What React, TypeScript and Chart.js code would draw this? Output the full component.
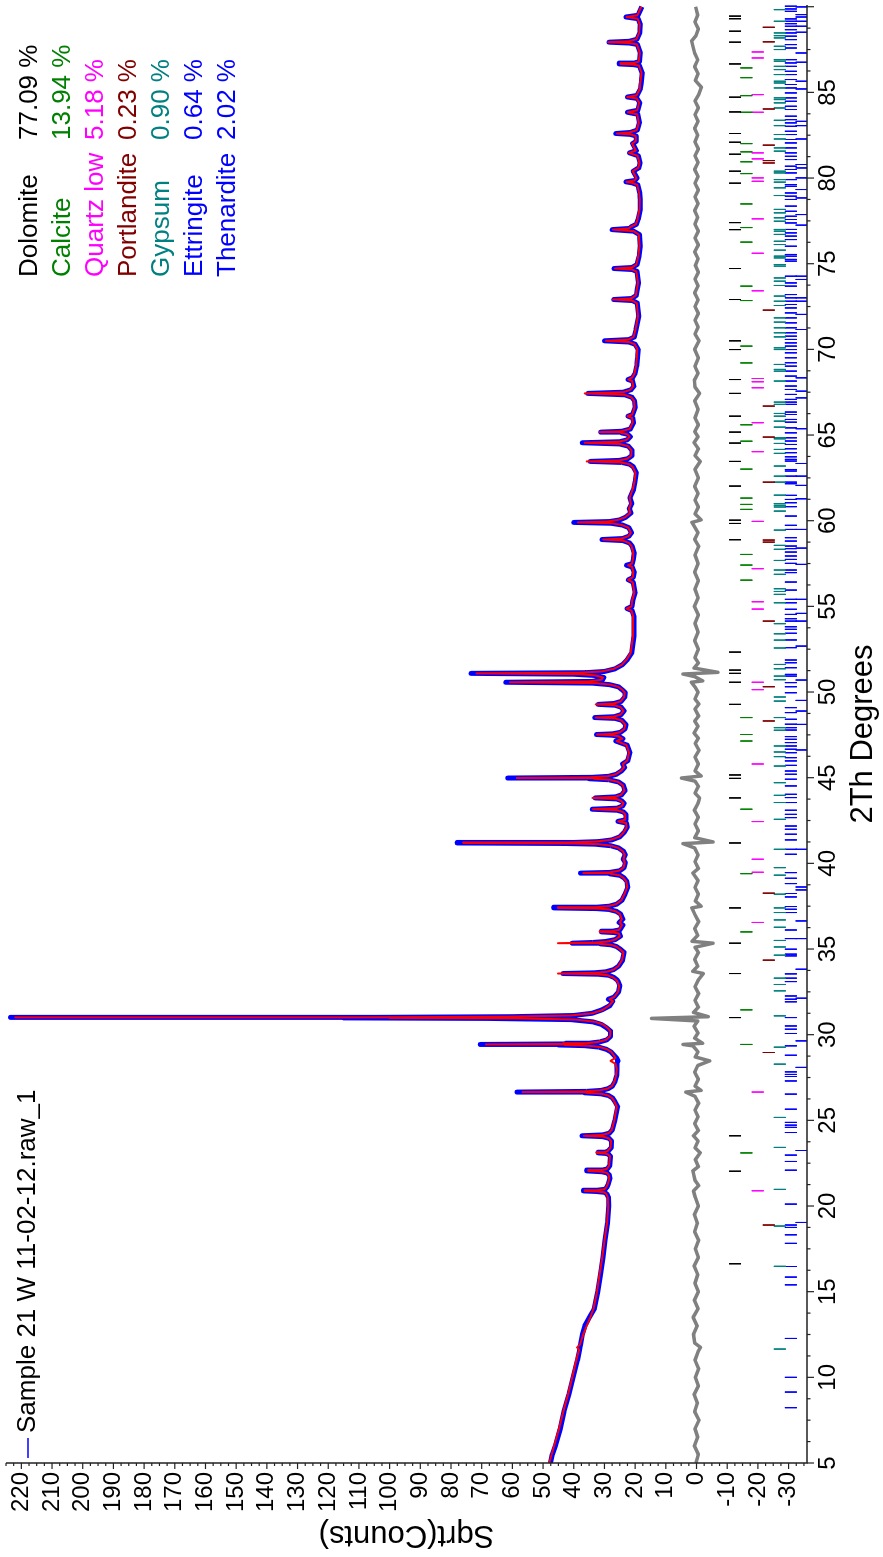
import React, { useEffect, useRef } from 'react';
import { Chart, registerables } from 'chart.js';

Chart.register(...registerables);

// ---------- data ----------
const twoTheta = [
  5.0, 5.5, 6.0, 7.0, 8.0, 9.0, 10.0, 11.0, 11.6, 11.75,
  11.9, 12.5, 13.0, 13.5, 14.0, 15.0, 16.0, 17.0, 18.0, 19.0,
  20.0, 20.5, 20.7, 20.8, 20.85, 20.88, 20.92, 20.98, 21.1, 21.3,
  21.6, 21.8, 21.93, 22.0, 22.05, 22.1, 22.17, 22.35, 22.9, 23.02,
  23.07, 23.1, 23.14, 23.22, 23.4, 23.8, 23.95, 24.05, 24.1, 24.15,
  24.25, 24.45, 25.0, 25.8, 26.1, 26.3, 26.45, 26.55, 26.61, 26.65,
  26.69, 26.75, 26.85, 27.0, 27.25, 27.6, 28.0, 28.3, 28.47, 28.65,
  29.0, 29.15, 29.28, 29.36, 29.4, 29.43, 29.46, 29.5, 29.58, 29.7,
  29.9, 30.2, 30.4, 30.6, 30.75, 30.88, 30.95, 30.98, 31.0, 31.02,
  31.05, 31.12, 31.25, 31.45, 31.7, 31.95, 32.07, 32.2, 32.5, 32.85,
  33.1, 33.2, 33.35, 33.47, 33.53, 33.57, 33.61, 33.67, 33.8, 34.0,
  34.35, 34.8, 35.0, 35.15, 35.25, 35.3, 35.34, 35.38, 35.44, 35.55,
  35.75, 35.9, 35.96, 36.0, 36.04, 36.12, 36.4, 36.55, 36.75, 37.05,
  37.2, 37.31, 37.36, 37.4, 37.44, 37.5, 37.62, 37.85, 38.2, 38.6,
  38.95, 39.15, 39.3, 39.39, 39.43, 39.47, 39.57, 39.75, 40.04, 40.25,
  40.5, 40.7, 40.9, 41.03, 41.12, 41.16, 41.19, 41.22, 41.27, 41.37,
  41.55, 41.8, 42.1, 42.35, 42.45, 42.55, 42.85, 43.0, 43.1, 43.16,
  43.22, 43.35, 43.5, 43.65, 43.76, 43.82, 43.88, 44.0, 44.25, 44.55,
  44.75, 44.88, 44.94, 44.98, 45.02, 45.08, 45.2, 45.4, 45.6, 45.8,
  46.0, 46.46, 46.9, 47.14, 47.28, 47.42, 47.48, 47.52, 47.56, 47.65,
  47.85, 48.1, 48.35, 48.46, 48.51, 48.56, 48.68, 48.9, 49.12, 49.23,
  49.28, 49.33, 49.45, 49.7, 49.96, 50.14, 50.3, 50.43, 50.52, 50.57,
  50.62, 50.72, 50.85, 50.97, 51.04, 51.09, 51.13, 51.2, 51.35, 51.6,
  51.9, 52.3, 53.27, 54.43, 54.75, 54.87, 55.0, 55.3, 55.8, 56.4,
  56.55, 56.7, 57.0, 57.3, 57.4, 57.5, 57.8, 58.13, 58.52, 58.7,
  58.84, 58.9, 58.96, 59.1, 59.3, 59.6, 59.75, 59.85, 59.9, 59.95,
  60.05, 60.2, 60.45, 60.7, 61.0, 61.35, 61.83, 62.3, 62.8, 63.15,
  63.3, 63.4, 63.46, 63.52, 63.62, 63.8, 64.1, 64.35, 64.48, 64.55,
  64.61, 64.72, 64.9, 65.05, 65.12, 65.17, 65.22, 65.35, 65.72, 66.0,
  66.1, 66.2, 66.6, 67.0, 67.2, 67.35, 67.43, 67.5, 67.65, 67.85,
  68.15, 68.24, 68.35, 68.6, 69.02, 69.5, 70.0, 70.3, 70.43, 70.5,
  70.57, 70.72, 71.16, 71.94, 72.7, 72.85, 72.91, 72.97, 73.15, 73.5,
  73.88, 74.55, 74.66, 74.72, 74.78, 74.95, 75.44, 76.02, 76.7, 76.9,
  76.99, 77.06, 77.15, 77.3, 77.6, 78.17, 78.75, 79.13, 79.6, 79.72,
  79.78, 79.86, 80.0, 80.4, 80.6, 80.88, 81.3, 81.47, 81.6, 82.01,
  82.15, 82.45, 82.55, 82.6, 82.66, 82.8, 83.22, 83.72, 83.84, 83.96,
  84.4, 84.65, 84.73, 84.82, 85.2, 85.55, 86.14, 86.56, 86.62, 86.66,
  86.71, 86.8, 87.3, 87.8, 87.88, 87.93, 87.98, 88.1, 88.47, 88.96,
  89.3, 89.4, 89.5, 90.0,
];

const calculated = [
  48.0, 47.2, 46.4, 44.8, 43.4, 41.9, 40.5, 39.2, 38.3, 38.9,
  38.0, 36.9, 35.8, 34.6, 33.6, 32.4, 31.6, 30.7, 30.0, 29.2,
  28.8, 28.9, 29.4, 30.0, 32.5, 36.4, 32.5, 30.0, 29.4, 28.9,
  28.4, 28.6, 29.2, 30.8, 35.3, 30.8, 29.2, 28.5, 28.2, 28.9,
  30.0, 32.6, 30.0, 28.9, 28.0, 27.9, 28.6, 30.5, 36.7, 30.8,
  28.6, 27.6, 26.8, 26.0, 26.8, 27.5, 28.8, 31.0, 36.0, 56.7,
  36.5, 31.5, 29.0, 27.6, 26.8, 26.2, 26.0, 26.4, 28.0, 26.4,
  27.8, 29.2, 31.5, 35.5, 43.0, 68.6, 43.5, 36.0, 32.0, 29.5,
  28.2, 28.0, 29.0, 30.5, 33.0, 39.0, 58.0, 100.0, 222.0, 110.0,
  62.0, 41.0, 34.0, 30.5, 28.5, 27.2, 28.3, 26.8, 25.6, 25.2,
  25.8, 26.2, 27.3, 29.0, 32.5, 45.1, 33.0, 29.3, 27.0, 25.5,
  24.3, 23.8, 25.0, 26.2, 28.0, 31.5, 45.1, 33.0, 29.0, 26.5,
  25.0, 25.3, 27.0, 31.5, 27.5, 25.2, 24.3, 25.0, 24.3, 25.0,
  26.3, 28.5, 32.0, 45.1, 33.0, 28.8, 26.2, 24.5, 23.5, 22.6,
  22.9, 23.8, 25.0, 28.0, 36.9, 28.5, 25.2, 23.8, 23.4, 23.8,
  23.4, 24.0, 25.5, 27.8, 32.0, 40.0, 76.0, 42.0, 33.0, 28.0,
  25.2, 23.8, 22.8, 23.0, 25.5, 23.2, 23.2, 24.0, 25.8, 33.7,
  26.0, 24.3, 23.8, 24.6, 26.2, 33.9, 26.5, 24.6, 23.5, 24.0,
  25.5, 28.3, 33.5, 58.6, 35.0, 29.0, 26.3, 24.6, 23.6, 24.0,
  22.6, 22.0, 22.8, 26.0, 24.2, 25.5, 27.5, 32.4, 27.5, 25.0,
  23.5, 23.2, 24.5, 26.5, 32.8, 27.0, 24.8, 23.8, 24.8, 26.8,
  32.8, 27.0, 24.8, 23.6, 23.4, 24.2, 25.5, 28.0, 33.0, 60.8,
  35.0, 31.0, 30.5, 33.0, 38.0, 71.7, 38.0, 31.0, 27.0, 24.3,
  22.8, 21.4, 20.7, 20.7, 21.2, 22.8, 21.2, 21.0, 20.3, 20.8,
  22.3, 20.8, 20.6, 21.0, 22.3, 21.0, 20.7, 20.6, 21.2, 22.0,
  24.0, 30.4, 24.3, 22.2, 21.4, 22.3, 24.3, 27.5, 38.6, 29.0,
  25.5, 23.3, 21.6, 22.0, 21.4, 21.8, 20.8, 20.2, 19.9, 20.8,
  22.0, 24.5, 35.8, 25.0, 22.5, 21.3, 21.2, 22.3, 25.0, 36.4,
  25.3, 22.8, 21.8, 22.6, 24.5, 31.5, 24.5, 21.8, 20.8, 21.0,
  22.5, 21.0, 20.2, 20.4, 21.2, 23.5, 36.4, 23.8, 21.5, 20.6,
  21.0, 22.2, 21.0, 20.2, 19.7, 19.5, 19.3, 20.2, 22.0, 29.5,
  22.3, 20.5, 19.9, 19.1, 19.5, 21.0, 27.2, 21.3, 19.8, 19.5,
  19.1, 19.6, 21.0, 26.6, 21.2, 19.6, 19.0, 18.6, 18.8, 20.5,
  27.2, 22.0, 21.5, 19.8, 19.2, 18.6, 18.5, 18.7, 19.3, 21.0,
  22.8, 20.2, 19.6, 20.8, 19.0, 18.6, 19.2, 22.0, 19.8, 21.0,
  19.8, 19.8, 21.5, 25.9, 21.8, 19.5, 18.8, 19.3, 22.3, 19.3,
  18.7, 19.5, 22.6, 19.6, 18.5, 18.3, 17.9, 18.8, 20.5, 24.8,
  20.5, 18.8, 18.5, 19.4, 21.8, 28.8, 22.2, 19.6, 18.7, 18.5,
  19.2, 22.8, 19.3, 18.0,
];

const observed = [
  47.6, 47.0, 46.0, 44.4, 43.2, 41.6, 40.2, 38.8, 38.1, 38.0,
  37.8, 37.2, 36.4, 34.9, 33.3, 32.2, 31.3, 30.5, 29.8, 29.0,
  28.6, 28.7, 29.2, 30.0, 32.8, 36.8, 32.4, 29.8, 29.2, 28.7,
  28.2, 28.4, 29.1, 30.9, 35.8, 30.6, 29.0, 28.3, 28.0, 28.7,
  29.6, 32.0, 29.7, 28.7, 27.8, 27.7, 28.5, 30.6, 37.3, 30.6,
  28.4, 27.4, 26.6, 25.7, 26.6, 27.3, 28.7, 31.2, 36.5, 58.5,
  35.8, 31.0, 28.8, 27.4, 26.6, 26.0, 25.9, 26.0, 25.6, 26.1,
  27.9, 29.4, 32.0, 36.5, 45.0, 70.5, 42.5, 35.0, 31.5, 29.2,
  28.0, 28.0, 29.3, 31.0, 33.8, 41.0, 68.0, 115.0, 223.5, 105.0,
  60.0, 40.0, 34.0, 30.8, 28.2, 27.3, 28.7, 26.8, 25.4, 25.0,
  25.5, 25.9, 27.0, 28.6, 32.0, 43.5, 33.3, 29.5, 27.0, 25.4,
  24.1, 23.6, 24.9, 26.1, 28.0, 31.3, 40.5, 34.0, 29.6, 26.5,
  24.8, 25.1, 26.8, 31.0, 27.3, 25.0, 24.0, 25.2, 24.0, 24.8,
  26.1, 28.6, 32.5, 46.5, 32.5, 28.4, 26.0, 24.3, 23.3, 22.4,
  22.7, 23.6, 24.9, 28.3, 37.8, 28.3, 25.0, 23.6, 23.2, 23.9,
  23.2, 23.8, 25.4, 28.0, 33.0, 43.0, 78.0, 40.0, 31.8, 27.6,
  25.0, 23.6, 22.6, 22.8, 25.6, 23.0, 23.0, 23.8, 25.9, 34.0,
  25.8, 24.1, 23.6, 24.4, 26.0, 33.0, 26.4, 24.4, 23.3, 23.8,
  25.4, 28.6, 35.0, 61.5, 34.0, 28.6, 26.1, 24.4, 23.4, 24.1,
  22.4, 21.7, 22.6, 26.3, 24.0, 25.4, 27.6, 32.6, 27.3, 24.8,
  23.3, 23.0, 24.3, 26.5, 33.2, 26.8, 24.6, 23.6, 24.6, 26.6,
  32.0, 26.9, 24.6, 23.4, 23.2, 24.3, 25.4, 28.3, 34.0, 62.2,
  34.0, 30.6, 30.2, 33.5, 40.0, 73.5, 36.0, 30.0, 26.6, 24.1,
  22.5, 21.1, 20.4, 20.4, 21.0, 22.6, 21.0, 20.8, 20.0, 20.6,
  22.2, 20.6, 20.3, 21.0, 22.8, 20.9, 20.5, 20.3, 21.0, 21.8,
  24.0, 30.8, 24.1, 22.0, 21.2, 22.1, 24.2, 27.8, 40.0, 28.3,
  25.0, 23.1, 21.4, 21.9, 21.1, 21.7, 20.5, 20.0, 19.6, 20.6,
  21.8, 24.3, 34.6, 25.2, 22.4, 21.0, 21.0, 22.2, 25.1, 37.2,
  25.0, 22.6, 21.6, 22.5, 24.4, 31.2, 24.3, 21.6, 20.5, 20.8,
  22.3, 20.8, 20.0, 20.2, 21.0, 23.4, 35.4, 23.9, 21.3, 20.4,
  20.8, 22.3, 20.8, 20.0, 19.5, 19.2, 19.0, 20.0, 22.1, 30.0,
  22.1, 20.3, 19.7, 18.8, 19.3, 20.9, 27.0, 21.1, 19.6, 19.3,
  18.9, 19.4, 21.0, 26.9, 21.0, 19.4, 18.7, 18.3, 18.6, 20.5,
  27.5, 21.8, 21.3, 19.6, 19.0, 18.3, 18.3, 18.5, 19.1, 21.0,
  23.0, 20.0, 19.4, 20.6, 18.8, 18.4, 19.0, 21.8, 19.6, 20.8,
  19.6, 19.6, 21.6, 26.3, 21.6, 19.3, 18.6, 19.1, 22.5, 19.1,
  18.5, 19.4, 22.5, 19.4, 18.3, 18.0, 17.7, 18.6, 20.6, 25.2,
  20.3, 18.6, 18.3, 19.3, 21.9, 28.5, 22.0, 19.4, 18.5, 18.3,
  19.0, 23.0, 19.1, 17.8,
];

const diffTheta = [
  5, 5.5, 6, 6.5, 7, 7.5, 8, 8.5, 9, 9.5,
  10, 10.5, 11, 11.5, 11.75, 12, 12.5, 13, 13.5, 14,
  14.5, 15, 15.5, 16, 16.5, 17, 17.5, 18, 18.5, 19,
  19.5, 20, 20.5, 20.88, 21.2, 21.5, 22.05, 22.3, 22.7, 23.1,
  23.4, 23.8, 24.1, 24.4, 24.8, 25.2, 25.6, 26.0, 26.4, 26.65,
  26.75, 27.0, 27.4, 27.8, 28.2, 28.47, 28.7, 29.0, 29.35, 29.43,
  29.5, 29.8, 30.1, 30.5, 30.8, 30.95, 31.05, 31.3, 31.6, 32.0,
  32.4, 32.8, 33.2, 33.57, 33.7, 34.0, 34.4, 34.8, 35.1, 35.34,
  35.45, 35.8, 36.2, 36.6, 37.0, 37.4, 37.5, 37.8, 38.2, 38.6,
  39.0, 39.43, 39.7, 40.1, 40.5, 40.9, 41.15, 41.25, 41.5, 41.9,
  42.3, 42.7, 43.1, 43.5, 43.82, 44.1, 44.5, 44.8, 44.98, 45.1,
  45.4, 45.8, 46.2, 46.6, 47.0, 47.3, 47.6, 48.0, 48.3, 48.6,
  49.0, 49.3, 49.6, 50.0, 50.3, 50.57, 50.65, 50.9, 51.05, 51.15,
  51.4, 51.7, 52.0, 52.5, 53.0, 53.5, 54.0, 54.5, 55.0, 55.5,
  56.0, 56.5, 57.0, 57.5, 58.0, 58.5, 58.9, 59.3, 59.6, 59.9,
  60.05, 60.4, 60.8, 61.2, 61.6, 62.0, 62.5, 63.0, 63.46, 63.8,
  64.2, 64.55, 64.9, 65.2, 65.6, 66.0, 66.5, 67.0, 67.43, 67.8,
  68.2, 68.6, 69.0, 69.5, 70.0, 70.5, 70.9, 71.3, 71.7, 72.1,
  72.5, 72.9, 73.3, 73.7, 74.1, 74.5, 74.9, 75.3, 75.7, 76.1,
  76.5, 76.9, 77.3, 77.7, 78.1, 78.5, 78.9, 79.3, 79.7, 80.1,
  80.5, 80.9, 81.3, 81.7, 82.1, 82.5, 82.9, 83.3, 83.7, 84.1,
  84.5, 84.9, 85.3, 85.7, 86.1, 86.5, 86.9, 87.3, 87.7, 88.0,
  88.3, 88.7, 89.1, 89.5, 90.0,
];

const difference = [
  0.2, -0.6, 0.7, -0.4, 0.5, -0.8, 0.6, -0.3, 0.8, -0.6,
  0.4, -0.7, 0.5, -0.5, -1.3, 0.6, 1.0, -0.2, 1.1, -0.5,
  0.7, -0.6, 0.5, -0.4, 0.8, -0.6, 0.4, -0.7, 0.6, -0.3,
  0.7, -0.6, 0.4, 1.0, -0.7, 0.5, 1.2, -0.6, 0.4, -1.2,
  0.5, -0.5, 1.0, -0.6, 0.6, -0.5, 0.5, -0.7, 0.5, 3.5,
  -1.5, 0.5, -0.6, 0.6, -0.4, -4.3, 0.4, -0.5, 1.2, 4.4,
  -2.0, 0.6, -0.5, 0.8, -0.4, 14.7, -3.8, 1.0, -0.6, 0.5,
  -0.7, 0.5, -0.6, -2.2, 1.2, -0.4, 0.6, -0.6, 0.5, -5.4,
  1.5, -0.4, 0.6, -0.7, 0.5, 1.5, -1.5, 0.4, -0.6, 0.5,
  -0.5, 1.2, -0.6, 0.5, -0.5, 0.6, 4.4, -5.4, 0.6, -0.6,
  0.5, -0.6, 0.7, -0.5, -1.0, 0.5, -0.6, 0.5, 4.9, -1.5,
  0.5, -0.6, 0.5, -0.8, 0.4, -0.6, 0.8, -0.5, 0.6, -0.7,
  0.5, -0.8, 0.5, -0.5, 0.5, 1.7, -2.0, 0.6, 4.4, -7.0,
  0.8, -0.6, 0.5, -0.6, 0.6, -0.5, 0.5, -0.6, 0.7, -0.5,
  0.5, -0.6, 0.6, -0.5, 0.5, -0.7, 0.6, -0.5, 0.5, 1.5,
  -1.5, 0.5, -0.6, 0.5, -0.5, 0.6, -0.6, 0.5, -1.2, 0.5,
  -0.6, 0.8, -0.5, 0.6, -0.6, 0.5, -0.5, 0.6, -1.0, 0.5,
  0.7, -0.5, 0.5, -0.6, 0.6, -0.8, 0.5, -0.5, 0.5, -0.6,
  0.5, -0.5, 0.6, -0.5, 0.5, -0.6, 0.4, -0.5, 0.6, -0.6,
  0.5, -0.6, 0.5, -0.4, 0.6, -0.5, 0.5, -0.6, 0.5, -0.5,
  0.6, -0.5, 0.5, -0.6, 0.5, -0.4, 0.6, -0.5, 0.5, -0.6,
  0.5, -0.8, -1.6, 0.4, -0.5, 0.6, -0.4, 0.6, 1.2, 1.6,
  0.2, -0.6, 0.5, -0.4, 0.3,
];

const dolomitePeaks = [16.63, 22.03, 24.10, 31.00, 33.57, 35.34, 37.40, 41.19, 43.82, 44.96, 45.16, 49.28, 50.57, 51.09, 51.28, 52.33, 58.89, 59.84, 60.03, 62.02, 63.46, 64.53, 65.17, 66.10, 67.43, 68.24, 69.99, 70.50, 72.91, 74.72, 76.99, 77.40, 79.70, 80.40, 81.39, 82.09, 82.60, 83.86, 84.72, 86.66, 87.93, 88.57, 89.30, 89.45];
const calcitePeaks = [23.10, 29.43, 31.45, 36.00, 39.40, 43.16, 47.14, 47.52, 48.51, 56.53, 57.41, 58.03, 60.66, 60.95, 61.32, 63.01, 64.64, 65.60, 69.21, 70.19, 72.85, 73.69, 76.26, 77.11, 78.49, 80.26, 80.95, 81.53, 82.01, 83.84, 84.81, 85.86, 86.43];
const quartzPeaks = [20.89, 26.65, 36.55, 39.48, 40.24, 42.44, 45.80, 50.14, 50.57, 54.84, 55.27, 57.20, 59.96, 64.03, 65.72, 67.76, 68.11, 68.30, 73.42, 75.61, 77.62, 79.81, 80.01, 81.12, 81.47, 83.84, 84.87, 87.01, 87.36];
const portlanditePeaks = [18.89, 28.96, 34.35, 38.26, 48.31, 50.31, 54.14, 58.75, 58.87, 62.25, 64.88, 66.69, 72.29, 80.88, 81.02, 81.92, 84.03, 87.95, 88.80];
const gypsumPeaks = [11.65, 16.48, 18.83, 20.97, 23.42, 25.17, 28.28, 29.27, 31.10, 32.56, 32.93, 33.30, 34.64, 35.12, 35.50, 36.27, 36.70, 37.13, 37.40, 38.20, 39.31, 39.75, 40.82, 42.57, 43.55, 43.97, 44.71, 45.68, 46.23, 46.50, 46.85, 47.77, 47.92, 48.51, 49.47, 49.71, 50.72, 50.93, 51.36, 51.61, 52.57, 53.03, 53.40, 53.99, 55.21, 55.70, 55.87, 56.03, 56.87, 57.12, 57.68, 58.33, 58.56, 59.45, 60.56, 60.80, 60.90, 61.00, 61.49, 62.25, 62.60, 63.19, 63.93, 64.16, 64.51, 64.78, 64.84, 65.46, 65.81, 66.10, 66.26, 66.79, 66.92, 68.15, 68.73, 68.83, 69.12, 69.99, 70.09, 70.73, 70.97, 71.26, 71.59, 71.84, 72.56, 72.81, 73.11, 73.73, 73.98, 74.17, 74.86, 74.95, 75.34, 75.44, 75.79, 76.12, 76.31, 76.71, 76.90, 77.00, 77.48, 77.68, 77.97, 78.17, 78.98, 79.43, 79.76, 79.91, 80.30, 80.40, 81.57, 81.76, 82.28, 82.54, 83.06, 83.37, 84.09, 84.39, 84.58, 84.68, 85.26, 85.55, 85.65, 86.04, 86.33, 86.52, 86.82, 86.91, 87.50, 87.69, 88.18, 88.31, 88.47, 89.15, 89.83];
const ettringitePeaks = [8.23, 9.14, 10.0, 12.27, 15.40, 15.85, 16.47, 17.82, 18.32, 18.75, 18.89, 20.11, 22.09, 22.60, 22.97, 24.29, 24.59, 24.72, 24.88, 25.65, 26.53, 27.30, 27.56, 27.68, 27.83, 28.80, 29.35, 30.07, 30.32, 30.51, 31.00, 31.92, 32.07, 32.26, 33.10, 33.30, 33.55, 34.60, 34.70, 34.99, 35.61, 36.11, 37.13, 37.32, 37.48, 38.04, 38.24, 38.82, 39.13, 39.46, 40.53, 40.82, 41.37, 41.70, 41.99, 42.18, 42.67, 42.86, 43.10, 43.55, 43.84, 44.03, 44.52, 44.91, 45.20, 45.39, 45.72, 45.98, 46.17, 46.46, 46.66, 46.85, 47.05, 47.24, 47.40, 47.78, 47.92, 48.12, 48.41, 48.80, 49.09, 49.96, 50.31, 50.55, 50.93, 51.03, 51.42, 51.71, 51.87, 52.59, 53.04, 53.43, 53.66, 53.81, 54.14, 54.28, 54.53, 54.83, 55.21, 55.41, 55.95, 56.42, 56.97, 57.12, 57.51, 57.74, 57.94, 58.17, 58.37, 58.52, 58.81, 59.01, 59.49, 59.73, 60.27, 60.82, 61.05, 61.24, 61.48, 62.16, 62.25, 62.60, 62.90, 62.99, 63.48, 63.58, 63.73, 63.97, 64.20, 64.45, 64.65, 64.84, 65.13, 65.42, 65.75, 65.91, 66.20, 66.34, 66.79, 66.92, 67.08, 67.37, 67.66, 67.86, 68.15, 68.44, 68.73, 69.02, 69.22, 69.51, 69.80, 69.99, 70.19, 70.38, 70.58, 70.77, 70.97, 71.26, 71.55, 71.84, 72.13, 72.42, 72.62, 72.81, 73.01, 73.20, 73.69, 73.88, 74.27, 75.15, 75.25, 75.44, 75.54, 76.02, 76.41, 76.61, 76.80, 77.00, 77.38, 77.58, 77.77, 78.06, 78.36, 78.75, 78.94, 79.13, 79.52, 79.62, 79.91, 80.30, 80.50, 80.69, 81.08, 81.27, 81.47, 81.76, 82.05, 82.25, 82.54, 82.73, 83.02, 83.22, 83.41, 83.61, 84.00, 84.19, 84.48, 84.68, 84.97, 85.26, 85.46, 85.75, 86.04, 86.23, 86.52, 86.72, 86.91, 87.59, 87.79, 88.08, 88.28, 88.47, 88.66, 88.86, 89.01, 89.15, 89.29, 89.73, 89.87, 90.03];
const thenarditePeaks = [19.04, 23.24, 28.09, 29.64, 32.13, 33.82, 35.61, 36.64, 38.45, 38.62, 40.82, 46.62, 48.11, 48.89, 49.51, 50.70, 52.68, 54.14, 54.59, 55.41, 57.45, 58.40, 59.49, 61.28, 62.06, 62.60, 63.34, 65.37, 67.17, 67.56, 68.34, 71.16, 72.04, 72.81, 73.01, 74.08, 74.27, 77.25, 77.87, 78.84, 79.33, 80.01, 80.59, 80.79, 82.28, 83.06, 83.31, 85.20, 85.65, 86.76, 87.30, 88.51, 88.86, 89.15, 89.40, 89.54, 89.99];

const phaseNames = ['Dolomite', 'Calcite', 'Quartz low', 'Portlandite', 'Gypsum', 'Ettringite', 'Thenardite'];
const phasePercents = ['77.09 %', '13.94 %', '5.18 %', '0.23 %', '0.90 %', '0.64 %', '2.02 %'];
const phaseColors = ['#000000', '#008000', '#FF00FF', '#800000', '#008080', '#0000FF', '#0000FF'];
const phasePeakLists = [dolomitePeaks, calcitePeaks, quartzPeaks, portlanditePeaks, gypsumPeaks, ettringitePeaks, thenarditePeaks];

const sampleName = 'Sample 21 W 11-02-12.raw_1';
const xAxisTitle = '2Th Degrees';
const yAxisTitle = 'Sqrt(Counts)';
const xTickLabels = [5, 10, 15, 20, 25, 30, 35, 40, 45, 50, 55, 60, 65, 70, 75, 80, 85];
const yTickLabels = [-30, -20, -10, 0, 10, 20, 30, 40, 50, 60, 70, 80, 90, 100, 110, 120, 130, 140, 150, 160, 170, 180, 190, 200, 210, 220];

// ---------- styles / layout ----------
const W = 1557;
const H = 883;
const FONT = '"Liberation Sans", Arial, Helvetica, sans-serif';
const TICK_ROW_TOP = [-10.6, -14.3, -18.0, -21.6, -25.2, -28.8, -32.3];
const TICK_ROW_LEN = 3.9;

const overlayPlugin = {
  id: 'xrdOverlay',
  afterDraw(chart: any) {
    const { ctx, chartArea: a } = chart;
    const xs = chart.scales.x;
    const ys = chart.scales.y;
    ctx.save();

    ctx.strokeStyle = '#222';
    ctx.lineWidth = 1.5;
    ctx.beginPath();
    ctx.moveTo(a.left, a.top);
    ctx.lineTo(a.left, a.bottom);
    ctx.lineTo(a.right, a.bottom);
    ctx.stroke();

    ctx.lineWidth = 1.2;
    for (let v = -35; v <= 225; v += 2.5) {
      const p = ys.getPixelForValue(v);
      const major = Math.abs(v % 10) < 1e-6;
      ctx.beginPath();
      ctx.moveTo(a.left, p);
      ctx.lineTo(a.left - (major ? 6 : 3), p);
      ctx.stroke();
    }
    for (let t = 5; t <= 90.05; t += 1.25) {
      const p = xs.getPixelForValue(t);
      const major = Math.abs((t - 5) % 5) < 1e-6;
      ctx.beginPath();
      ctx.moveTo(p, a.bottom);
      ctx.lineTo(p, a.bottom + (major ? 7 : 3.5));
      ctx.stroke();
    }

    ctx.fillStyle = '#000';
    ctx.font = `24px ${FONT}`;
    ctx.textAlign = 'right';
    ctx.textBaseline = 'middle';
    yTickLabels.forEach((v) => ctx.fillText(String(v), a.left - 9, ys.getPixelForValue(v)));
    ctx.textAlign = 'center';
    ctx.textBaseline = 'alphabetic';
    xTickLabels.forEach((t) => ctx.fillText(String(t), xs.getPixelForValue(t), a.bottom + 28));

    ctx.font = `31px ${FONT}`;
    ctx.fillText(xAxisTitle, (a.left + a.right) / 2, a.bottom + 65);
    ctx.save();
    ctx.translate(31, (a.top + a.bottom) / 2);
    ctx.rotate(-Math.PI / 2);
    ctx.fillText(yAxisTitle, 0, 0);
    ctx.restore();

    ctx.strokeStyle = '#0000FF';
    ctx.lineWidth = 1.5;
    ctx.beginPath();
    ctx.moveTo(99, 28);
    ctx.lineTo(119, 28);
    ctx.stroke();
    ctx.font = `26px ${FONT}`;
    ctx.textAlign = 'left';
    ctx.fillStyle = '#000';
    ctx.fillText(sampleName, 124, 35);

    phaseNames.forEach((name, i) => {
      const yb = 36.8 + 33.1 * i;
      ctx.fillStyle = phaseColors[i];
      ctx.fillText(name, 1280, yb);
      ctx.fillText(phasePercents[i], 1417, yb);
    });

    ctx.restore();
  },
};

export default function App() {
  const ref = useRef<HTMLCanvasElement>(null);

  useEffect(() => {
    if (!ref.current) return;

    const phaseSets = phasePeakLists.map((peaks, i) => ({
      label: phaseNames[i],
      data: peaks.flatMap((p) => [
        { x: p, y: TICK_ROW_TOP[i] },
        { x: p, y: TICK_ROW_TOP[i] - TICK_ROW_LEN },
        { x: p, y: null },
      ]),
      borderColor: phaseColors[i],
      borderWidth: 1,
      pointRadius: 0,
      spanGaps: false,
      order: 5,
    }));

    const chart = new Chart(ref.current, {
      type: 'line',
      data: {
        datasets: [
          {
            label: 'Calculated',
            data: twoTheta.map((t, i) => ({ x: t, y: calculated[i] })),
            borderColor: '#FF0000',
            borderWidth: 2,
            borderJoinStyle: 'round',
            pointRadius: 0,
            order: 0,
          },
          {
            label: sampleName,
            data: twoTheta.map((t, i) => ({ x: t, y: observed[i] })),
            borderColor: '#0000FF',
            borderWidth: 5,
            borderJoinStyle: 'round',
            pointRadius: 0,
            order: 1,
          },
          {
            label: 'Difference',
            data: diffTheta.map((t, i) => ({ x: t, y: difference[i] })),
            borderColor: '#808080',
            borderWidth: 3.5,
            borderJoinStyle: 'round',
            pointRadius: 0,
            order: 2,
          },
          ...phaseSets,
        ] as any,
      },
      options: {
        animation: false,
        responsive: false,
        devicePixelRatio: 1,
        layout: { padding: { left: 94, right: 5, top: 6, bottom: 76 } },
        elements: { line: { tension: 0 } },
        scales: {
          x: { type: 'linear', min: 5, max: 90.1, display: false },
          y: { type: 'linear', min: -36, max: 225, display: false },
        },
        plugins: {
          legend: { display: false },
          tooltip: { enabled: false },
        },
        events: [],
      } as any,
      plugins: [overlayPlugin],
    });

    return () => chart.destroy();
  }, []);

  return (
    <div
      style={{
        position: 'absolute',
        left: 0,
        top: 0,
        width: H,
        height: W,
        overflow: 'hidden',
        background: '#ffffff',
      }}
    >
      <canvas
        ref={ref}
        width={W}
        height={H}
        style={{
          position: 'absolute',
          left: 0,
          top: 0,
          width: W,
          height: H,
          transformOrigin: '0 0',
          transform: `translate(0px, ${W}px) rotate(-90deg)`,
        }}
      />
    </div>
  );
}
